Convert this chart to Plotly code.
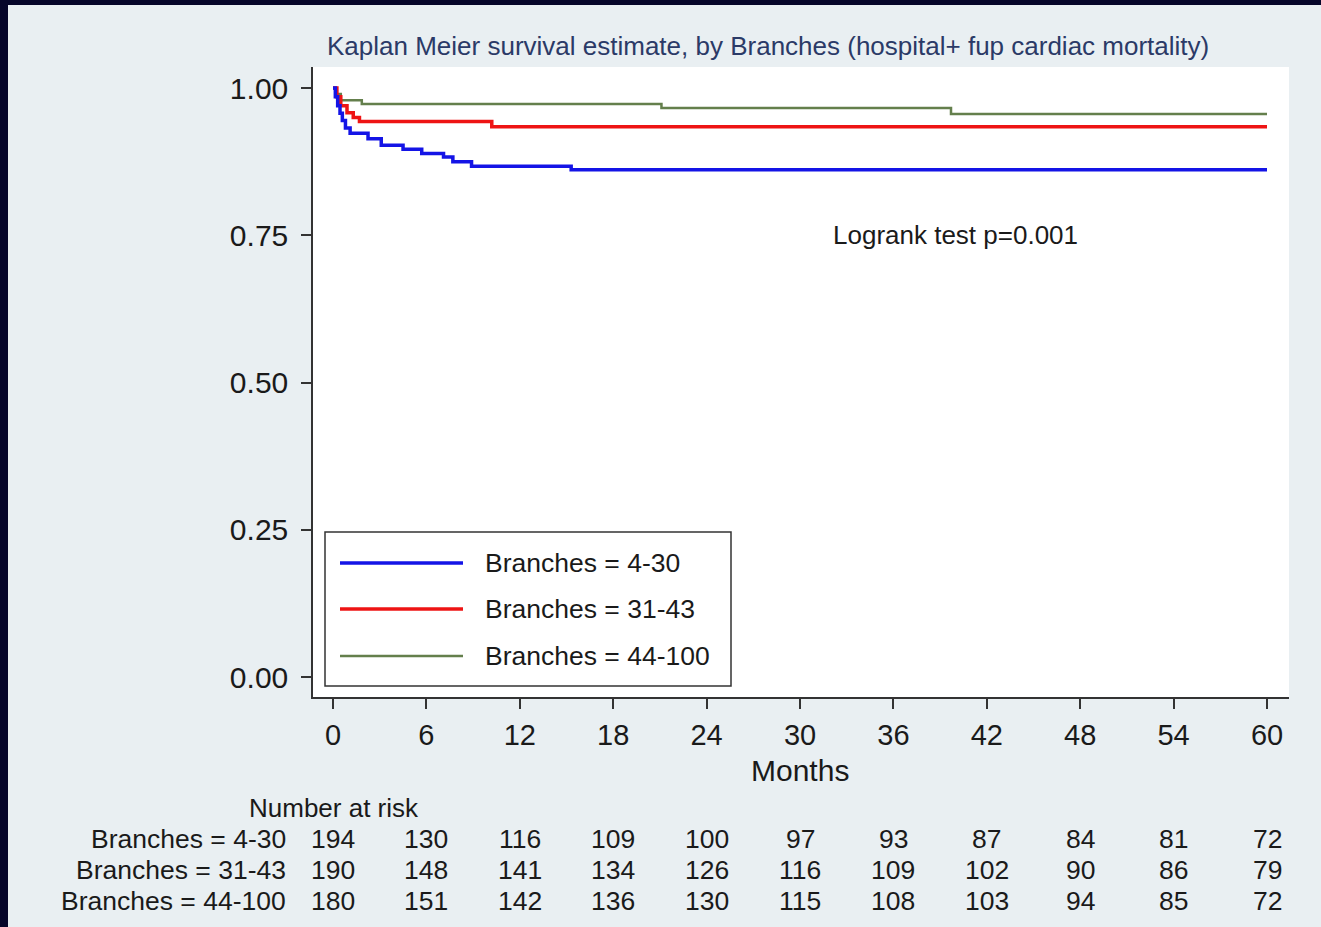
import plotly.graph_objects as go

# ---------------- data ----------------
months_4_30 = [0, 0.15, 0.3, 0.45, 0.6, 0.8, 1.1, 2.25, 3.1, 4.5, 5.7, 7.1, 7.7, 8.9, 15.3, 60]
surv_4_30 = [1.0, 0.985, 0.97, 0.957, 0.945, 0.932, 0.923, 0.914, 0.903, 0.896, 0.889, 0.883, 0.875, 0.867, 0.861, 0.861]

months_31_43 = [0, 0.25, 0.5, 0.9, 1.3, 1.7, 10.2, 60]
surv_31_43 = [1.0, 0.985, 0.97, 0.958, 0.95, 0.943, 0.934, 0.934]

months_44_100 = [0, 0.2, 0.5, 1.85, 21.1, 39.7, 60]
surv_44_100 = [1.0, 0.99, 0.979, 0.973, 0.966, 0.956, 0.956]

group_names = ["Branches = 4-30", "Branches = 31-43", "Branches = 44-100"]
group_colors = ["#1414e6", "#ee1414", "#647f4c"]
group_widths = [3.5, 3.5, 2.5]

risk_times = [0, 6, 12, 18, 24, 30, 36, 42, 48, 54, 60]
risk_4_30 = [194, 130, 116, 109, 100, 97, 93, 87, 84, 81, 72]
risk_31_43 = [190, 148, 141, 134, 126, 116, 109, 102, 90, 86, 79]
risk_44_100 = [180, 151, 142, 136, 130, 115, 108, 103, 94, 85, 72]

x_ticks = [0, 6, 12, 18, 24, 30, 36, 42, 48, 54, 60]
y_ticks = [0, 0.25, 0.5, 0.75, 1.0]
y_tick_text = ["0.00", "0.25", "0.50", "0.75", "1.00"]

title_text = "Kaplan Meier survival estimate, by Branches (hospital+ fup cardiac mortality)"
logrank_text = "Logrank test p=0.001"

# ---------------- layout geometry (pixels) ----------------
W, H = 1321, 927
PL, PR, PT, PB = 313, 1289, 67, 697
pw, ph = PR - PL, PB - PT


def px_x(x):
    return (x - PL) / pw


def px_y(y):
    return (PB - y) / ph


FONT = "Liberation Sans, Arial, Helvetica, sans-serif"
TXT = "#1a1a1a"
AX = "#333333"

fig = go.Figure()
series = [(months_4_30, surv_4_30), (months_31_43, surv_31_43), (months_44_100, surv_44_100)]
for i in [2, 1, 0]:
    mx, sy = series[i]
    fig.add_trace(go.Scatter(x=mx, y=sy, mode="lines", line_shape="hv",
                             line=dict(color=group_colors[i], width=group_widths[i]),
                             name=group_names[i], showlegend=False))

annotations = []
shapes = []

# title
annotations.append(dict(text=title_text, x=px_x(768), y=px_y(46), xref="paper", yref="paper",
                        xanchor="center", yanchor="middle", showarrow=False,
                        font=dict(family=FONT, size=26, color="#2b3a67")))
# logrank text
annotations.append(dict(text=logrank_text, x=40, y=0.75, xref="x", yref="y",
                        xanchor="center", yanchor="middle", showarrow=False,
                        font=dict(family=FONT, size=26, color=TXT)))
# x axis title
annotations.append(dict(text="Months", x=30, y=px_y(770), xref="x", yref="paper",
                        xanchor="center", yanchor="middle", showarrow=False,
                        font=dict(family=FONT, size=30, color=TXT)))

# manual legend (long line samples as in the reference)
shapes.append(dict(type="rect", xref="paper", yref="paper",
                   x0=px_x(325), x1=px_x(731), y0=px_y(686), y1=px_y(532),
                   line=dict(color="#333333", width=1.5), fillcolor="white", layer="above"))
leg_y = [563, 609, 656]
for i in range(3):
    shapes.append(dict(type="line", xref="paper", yref="paper",
                       x0=px_x(340), x1=px_x(463), y0=px_y(leg_y[i]), y1=px_y(leg_y[i]),
                       line=dict(color=group_colors[i], width=group_widths[i]), layer="above"))
    annotations.append(dict(text=group_names[i], x=px_x(483), y=px_y(leg_y[i]),
                            xref="paper", yref="paper", xanchor="left", yanchor="middle",
                            showarrow=False, font=dict(family=FONT, size=26.5, color=TXT)))

# number at risk table
annotations.append(dict(text="Number at risk", x=px_x(334), y=px_y(808), xref="paper", yref="paper",
                        xanchor="center", yanchor="middle", showarrow=False,
                        font=dict(family=FONT, size=26, color=TXT)))
rows = [risk_4_30, risk_31_43, risk_44_100]
row_y = [839, 870, 901]
for r in range(3):
    annotations.append(dict(text=group_names[r], x=px_x(288), y=px_y(row_y[r]),
                            xref="paper", yref="paper", xanchor="right", yanchor="middle",
                            showarrow=False, font=dict(family=FONT, size=26.5, color=TXT)))
    for t, n in zip(risk_times, rows[r]):
        annotations.append(dict(text=str(n), x=t, y=px_y(row_y[r]), xref="x", yref="paper",
                                xanchor="center", yanchor="middle", showarrow=False,
                                font=dict(family=FONT, size=26.5, color=TXT)))

# dark frame edges (top and left)
shapes.append(dict(type="rect", xref="paper", yref="paper", x0=px_x(0), x1=px_x(8),
                   y0=px_y(H), y1=px_y(0), line=dict(width=0), fillcolor="#06062a", layer="below"))
shapes.append(dict(type="rect", xref="paper", yref="paper", x0=px_x(0), x1=px_x(W),
                   y0=px_y(5), y1=px_y(0), line=dict(width=0), fillcolor="#06062a", layer="below"))

ppm = (1267 - 333) / 60.0
x_lo = -(333 - PL) / ppm
x_hi = (PR - 333) / ppm
ppv = 677 - 88
y_lo = -(PB - 677) / ppv
y_hi = 1 + (88 - PT) / ppv

fig.update_layout(
    width=W, height=H,
    margin=dict(l=PL, r=W - PR, t=PT, b=H - PB, pad=0),
    paper_bgcolor="#e9eff2", plot_bgcolor="white",
    showlegend=False,
    annotations=annotations, shapes=shapes,
    xaxis=dict(range=[x_lo, x_hi], tickvals=x_ticks, ticks="outside", ticklen=10, tickwidth=1.5,
               tickcolor=AX, showline=True, linecolor=AX, linewidth=1.5, showgrid=False,
               zeroline=False, ticklabelstandoff=1,
               tickfont=dict(family=FONT, size=29, color=TXT)),
    yaxis=dict(range=[y_lo, y_hi], tickvals=y_ticks, ticktext=y_tick_text, ticks="outside",
               ticklen=10, tickwidth=1.5, tickcolor=AX, showline=True, linecolor=AX, linewidth=1.5,
               showgrid=False, zeroline=False, ticklabelstandoff=7,
               tickfont=dict(family=FONT, size=30, color=TXT)),
)

fig.write_html("out.html")
